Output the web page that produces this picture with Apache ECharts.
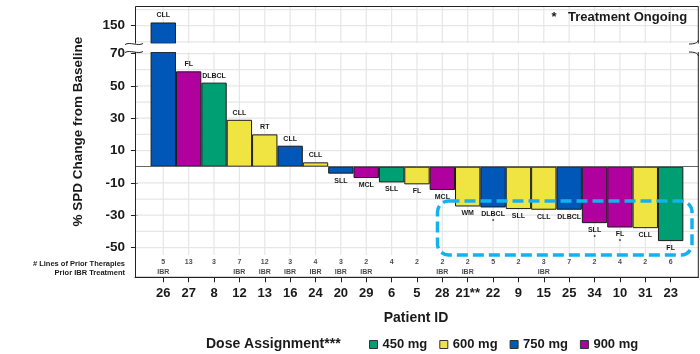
<!DOCTYPE html>
<html><head><meta charset="utf-8">
<script src="https://cdn.jsdelivr.net/npm/echarts@6/dist/echarts.min.js"></script>
<style>html,body{margin:0;padding:0;background:#fff}#c{width:700px;height:354px}</style>
</head><body><div id="c"></div>
<script>
// ---- data ----
const patientIds = ['26','27','8','12','13','16','24','20','29','6','5','28','21**','22','9','15','25','34','10','31','23'];
const spdChange  = [152, 59, 52, 29, 20, 13, 2.7, -4.3, -7, -9.7, -10.9, -14.4, -24.6, -25.2, -26.2, -26.6, -26.6, -34.9, -37.6, -38, -46];
const doseMg     = [750,900,450,600,600,750,600,750,900,450,600,900,600,750,600,600,750,900,900,600,450];
const histology  = ['CLL','FL','DLBCL','CLL','RT','CLL','CLL','SLL','MCL','SLL','FL','MCL','WM','DLBCL','SLL','CLL','DLBCL','SLL','FL','CLL','FL'];
const ongoing    = [0,0,0,0,0,0,0,0,0,0,0,0,0,1,0,0,0,1,1,0,0];
const priorLines = [5,13,3,7,12,3,4,3,2,4,2,2,2,5,2,3,7,2,4,2,6];
const priorIBR   = [1,0,0,1,1,1,1,1,1,0,0,1,1,0,0,1,0,0,0,0,0];
const doseLevels = [450,600,750,900];
const doseNames  = ['450 mg','600 mg','750 mg','900 mg'];
const doseColors = ['#009E73','#F0E442','#0057B7','#B0009D'];
const yLabelsUpper = [150];
const yGridUpper   = [140,150,160];
const yLabelsLower = [70,50,30,10,-10,-30,-50];
const yGridLower   = [70,60,50,40,30,20,10,-10,-20,-30,-40,-50];
const xPositions   = patientIds.map((_, i) => i + 1);

// ---- layout ----
const FONT = '"Liberation Sans", Arial, sans-serif';
const TXT = '#1a1a1a';
const GRIDC = '#e6e6e6';
const GL = 135, GW = 563.3;
const UP = {min: 139.1, max: 162.2};
const LOW = {min: -54.6, max: 70.76};
const XR = {min: -0.115, max: 22.09};

const chart = echarts.init(document.getElementById('c'), null, {renderer: 'canvas'});

function xAxisCfg(gridIndex, bottom) {
  return {
    type: 'value', gridIndex, min: XR.min, max: XR.max,
    axisLine: {show: bottom, onZero: false, lineStyle: {color: '#222', width: 1}},
    axisTick: {show: bottom, customValues: xPositions, length: 5, lineStyle: {color: '#222'}},
    axisLabel: {show: bottom, customValues: xPositions, margin: 10,
      formatter: v => patientIds[Math.round(v) - 1] || '',
      fontFamily: FONT, fontWeight: 'bold', fontSize: 13, color: TXT},
    splitLine: {show: false}
  };
}
function yLabelAxis(gridIndex, r, labels) {
  return {
    type: 'value', gridIndex, min: r.min, max: r.max, position: 'left',
    axisLine: {show: false},
    axisTick: {show: true, customValues: labels, length: 7, lineStyle: {color: '#222'}},
    axisLabel: {show: true, customValues: labels, margin: 10,
      fontFamily: FONT, fontWeight: 'bold', fontSize: 13.5, color: TXT},
    splitLine: {show: false}
  };
}

// grid lines: custom series placed through the axes' own scales, drawn behind the bars
function gridLineSeries(xAxisIndex, yAxisIndex, yVals, anchorY) {
  const data = yVals.map(v => [xPositions[0], v, 0]).concat(xPositions.map(v => [v, anchorY, 1]));
  return {
    type: 'custom', coordinateSystem: 'cartesian2d', xAxisIndex, yAxisIndex,
    z: 1, silent: true, animation: false, clip: false,
    data,
    renderItem: function (params, api) {
      const cs = params.coordSys;
      const pt = api.coord([api.value(0), api.value(1)]);
      const shape = api.value(2) === 0
        ? {x1: cs.x, y1: pt[1], x2: cs.x + cs.width, y2: pt[1]}
        : {x1: pt[0], y1: cs.y, x2: pt[0], y2: cs.y + cs.height};
      return {type: 'line', shape, style: {stroke: GRIDC, lineWidth: 1.2, fill: null}};
    }
  };
}

function barLabel(p) {
  const i = Math.round(p.value[0]) - 1;
  return ongoing[i] ? '{a|' + histology[i] + '}\n{s|*}' : '{a|' + histology[i] + '}';
}
const labelRich = {
  a: {fontFamily: FONT, fontWeight: 'bold', fontSize: 7, color: TXT, lineHeight: 8},
  s: {fontFamily: FONT, fontWeight: 'bold', fontSize: 6, color: TXT, lineHeight: 6}
};

const series = [gridLineSeries(0, 0, yGridUpper, 150), gridLineSeries(1, 1, yGridLower, 0)];
doseLevels.forEach((d, k) => {
  const idx = spdChange.map((v, i) => i).filter(i => doseMg[i] === d);
  series.push({
    type: 'bar', name: doseNames[k], xAxisIndex: 0, yAxisIndex: 0, z: 2,
    barWidth: '100%', barGap: '-100%', clip: true,
    itemStyle: {color: doseColors[k], borderColor: '#1a1a1a', borderWidth: 1},
    data: idx.map(i => ({value: [i + 1, spdChange[i]],
      label: {show: spdChange[i] > UP.min, position: spdChange[i] >= 0 ? 'top' : 'bottom', distance: 3}})),
    label: {formatter: barLabel, rich: labelRich},
    emphasis: {disabled: true}, silent: true, animation: false
  });
  const s = {
    type: 'bar', name: doseNames[k], xAxisIndex: 1, yAxisIndex: 1, z: 2,
    barWidth: '100%', barGap: '-100%', clip: true,
    itemStyle: {color: doseColors[k], borderColor: '#1a1a1a', borderWidth: 1},
    data: idx.map(i => ({value: [i + 1, spdChange[i]],
      label: {show: spdChange[i] < LOW.max, position: spdChange[i] >= 0 ? 'top' : 'bottom', distance: 3}})),
    label: {formatter: barLabel, rich: labelRich},
    emphasis: {disabled: true}, silent: true, animation: false
  };
  if (k === 0) {
    s.markLine = {silent: true, symbol: ['none', 'none'], animation: false,
      label: {show: false}, lineStyle: {color: '#666', width: 1, type: 'solid'},
      data: [{yAxis: 0}]};
  }
  series.push(s);
});
const rowStyle = {show: true, position: 'inside', fontFamily: FONT, fontWeight: 'bold', fontSize: 7, color: TXT};
series.push({
  type: 'scatter', name: 'lines', xAxisIndex: 2, yAxisIndex: 2, symbolSize: 1,
  itemStyle: {color: 'rgba(0,0,0,0)'}, silent: true, animation: false,
  data: priorLines.map((v, i) => ({value: [i + 1, 2]})),
  label: Object.assign({formatter: p => String(priorLines[Math.round(p.value[0]) - 1])}, rowStyle)
});
series.push({
  type: 'scatter', name: 'ibr', xAxisIndex: 2, yAxisIndex: 2, symbolSize: 1,
  itemStyle: {color: 'rgba(0,0,0,0)'}, silent: true, animation: false,
  data: priorIBR.map((v, i) => ({value: [i + 1, 0.65]})).filter((d, i) => priorIBR[i]),
  label: Object.assign({formatter: 'IBR'}, rowStyle)
});

const textEl = (x, y, text, size, align, extra) => Object.assign({
  type: 'text', x, y, z: 110,
  style: {text, fill: TXT, font: 'bold ' + size + 'px ' + FONT,
    textAlign: align, align: align, textVerticalAlign: 'middle', verticalAlign: 'middle'}
}, extra || {});
const curve = (x1, y1, cx1, cy1, cx2, cy2, x2, y2) => ({
  type: 'bezierCurve', z: 102,
  shape: {x1, y1, cpx1: cx1, cpy1: cy1, cpx2: cx2, cpy2: cy2, x2, y2},
  style: {fill: 'none', stroke: '#222', lineWidth: 1}
});

const option = {
  animation: false,
  grid: [
    {left: GL, top: 6, width: GW, height: 37.3, containLabel: false},
    {left: GL, top: 52.3, width: GW, height: 202.7, containLabel: false},
    {left: GL, top: 255, width: GW, height: 22.3, containLabel: false}
  ],
  xAxis: [xAxisCfg(0, false), xAxisCfg(1, false), xAxisCfg(2, true)],
  yAxis: [
    yLabelAxis(0, UP, yLabelsUpper),
    yLabelAxis(1, LOW, yLabelsLower),
    {type: 'value', gridIndex: 2, min: 0, max: 3, show: false}
  ],
  legend: {
    data: doseNames, left: 364, top: 333, icon: 'rect', itemWidth: 8, itemHeight: 8, itemGap: 12,
    itemStyle: {borderColor: '#333', borderWidth: 1},
    textStyle: {fontFamily: FONT, fontWeight: 'bold', fontSize: 13, color: TXT},
    selectedMode: false
  },
  series,
  graphic: [
    {type: 'rect', z: 100, shape: {x: 135.5, y: 6.5, width: 562.8, height: 270.8},
      style: {fill: 'none', stroke: '#222', lineWidth: 1}},
    {type: 'rect', z: 101, shape: {x: 130, y: 43.5, width: 570, height: 8.5},
      style: {fill: '#fff', stroke: 'none'}},
    curve(125, 44.5, 130, 41.5, 138, 46.5, 143, 43.5),
    curve(125, 52.5, 130, 49.5, 138, 54.5, 143, 51.5),
    curve(689, 44, 694, 44, 698.3, 43, 698.3, 40),
    curve(689, 52, 694, 52, 698.3, 53, 698.3, 56),
    {type: 'rect', z: 105, shape: {x: 437.5, y: 201, width: 254.5, height: 54, r: 11},
      style: {fill: 'none', stroke: '#12b2ef', lineWidth: 3.5, lineDash: [11, 5]}},
    textEl(78, 131.7, '% SPD Change from Baseline', 13.5, 'center', {rotation: Math.PI / 2}),
    textEl(125, 264, '# Lines of Prior Therapies', 7.5, 'right'),
    textEl(125, 273.3, 'Prior IBR Treatment', 7.5, 'right'),
    textEl(554, 17.5, '*', 13, 'center'),
    textEl(568, 17.5, 'Treatment Ongoing', 13, 'left'),
    textEl(416, 318, 'Patient ID', 14, 'center'),
    textEl(206, 343.7, 'Dose Assignment***', 14, 'left')
  ]
};
chart.setOption(option);
</script>
</body></html>
